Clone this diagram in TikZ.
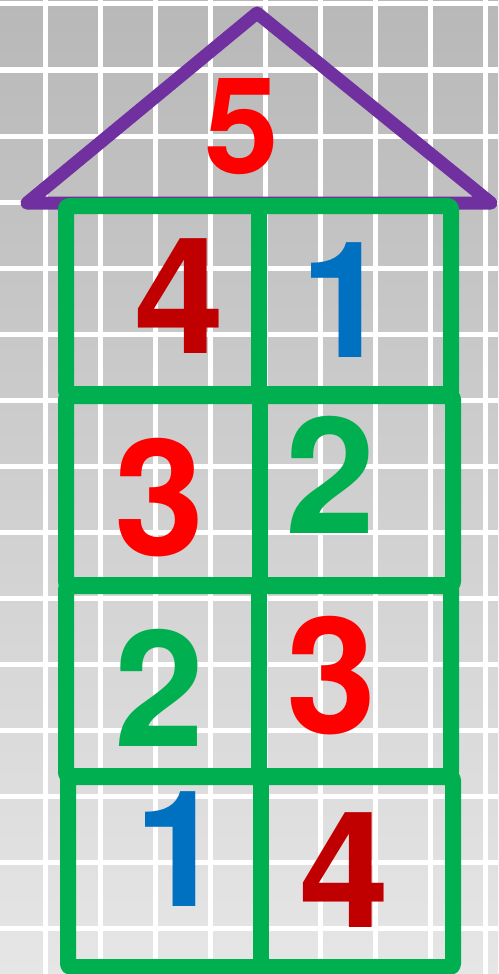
\documentclass[tikz,border=0pt]{standalone}
\usepackage{fontspec}
\setmainfont{TeX Gyre Heros}
\definecolor{hgreen}{HTML}{00B050}
\definecolor{hpurple}{HTML}{7030A0}
\definecolor{hred}{HTML}{FF0000}
\definecolor{hdred}{HTML}{C00000}
\definecolor{hblue}{HTML}{0070C0}
\definecolor{bgtop}{RGB}{184,184,184}
\definecolor{bgbot}{RGB}{230,230,230}
\tikzset{
  gridline/.style={white, line width=5pt},
  roof/.style={hpurple, line width=13pt, line join=round, line cap=round},
  cellbox/.style={hgreen, line width=16pt, line join=round, line cap=round, rounded corners=3pt},
  digit/.style={inner sep=0pt, font=\fontsize{162}{162}\selectfont\bfseries},
  bigdigit/.style={inner sep=0pt, font=\fontsize{134}{134}\selectfont\bfseries}
}
\begin{document}
\begin{tikzpicture}[x=1pt,y=-1pt]
\useasboundingbox (0,0) rectangle (498,974);
\shade[top color=bgtop, bottom color=bgbot] (0,0) rectangle (498,974);
% grid
\foreach \gx in {45,100,155,210,265,320,375,430,485}
  \draw[gridline] (\gx,0) -- (\gx,974);
\foreach \gy in {4,70,136,202,268,334,400,466,532,598,664,730,796,862,928}
  \draw[gridline] (0,\gy) -- (498,\gy);
% roof
\draw[roof] (27,203) -- (257,13) -- (491,203) -- cycle;
% rows
\draw[cellbox] (66,206) rectangle (451,394);
\draw[cellbox] (259,206) -- (259,394);
\draw[cellbox] (66,396) rectangle (453,585);
\draw[cellbox] (260,396) -- (260,585);
\draw[cellbox] (66,586) rectangle (451,776);
\draw[cellbox] (259,586) -- (259,776);
\draw[cellbox] (68,777) rectangle (453,967);
\draw[cellbox] (261,777) -- (261,967);
% digits
\node[bigdigit, text=hred] (n5) at (242,127) {5};
\node[digit, text=hdred] (r1a) at (180,296) {4};
\node[digit, text=hblue] (r1b) at (346,300) {1};
\node[digit, text=hred] (r2a) at (160,498) {3};
\node[digit, text=hgreen] (r2b) at (331,475) {2};
\node[digit, text=hgreen] (r3a) at (160,688) {2};
\node[digit, text=hred] (r3b) at (332,676) {3};
\node[digit, text=hblue] (r4a) at (180,849) {1};
\node[digit, text=hdred] (r4b) at (345,870) {4};
\end{tikzpicture}
\end{document}
